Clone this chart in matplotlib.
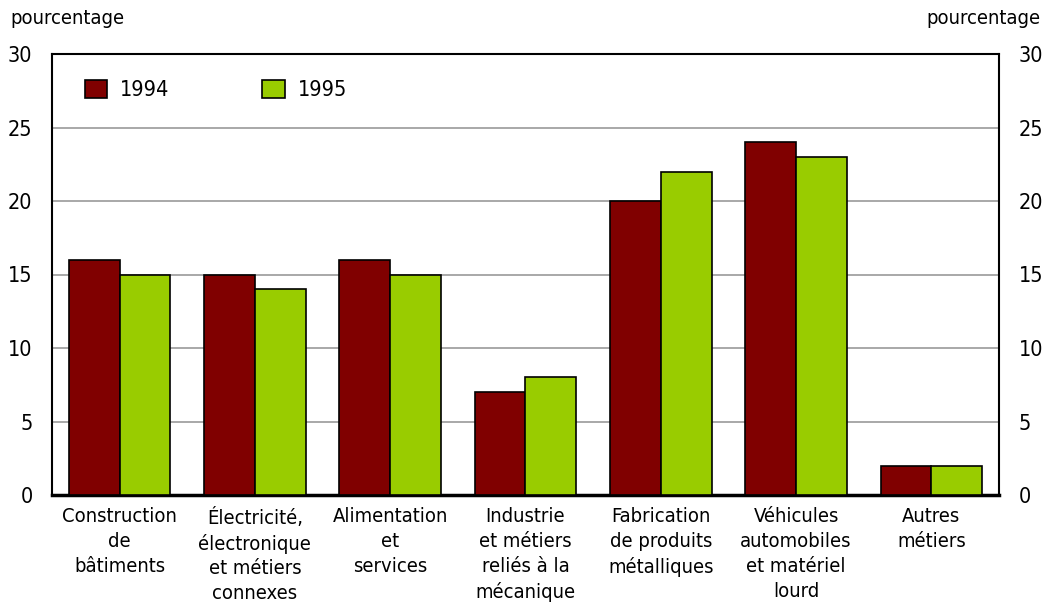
import matplotlib.pyplot as plt
import numpy as np

plt.rcParams['font.family'] = ['DejaVu Sans']
plt.rcParams['font.stretch'] = 'condensed'

categories = ["Construction\nde\nbâtiments",
              "Électricité,\nélectronique\net métiers\nconnexes",
              "Alimentation\net\nservices",
              "Industrie\net métiers\nreliés à la\nmécanique",
              "Fabrication\nde produits\nmétalliques",
              "Véhicules\nautomobiles\net matériel\nlourd",
              "Autres\nmétiers"]
v1994 = [16, 15, 16, 7, 20, 24, 2]
v1995 = [15, 14, 15, 8, 22, 23, 2]
yticks = [0, 5, 10, 15, 20, 25, 30]

fig = plt.figure(figsize=(10.54, 6.08), dpi=100)
ax = fig.add_axes([52/1054, 1-495/608, 947/1054, 441/608])

x = np.arange(len(categories))
w = 0.375
ax.bar(x - w/2, v1994, w, color="#800000", edgecolor="black", linewidth=1.2, label="1994", zorder=3)
ax.bar(x + w/2, v1995, w, color="#99cc00", edgecolor="black", linewidth=1.2, label="1995", zorder=3)

ax.set_xlim(-0.5, len(categories) - 0.5)
ax.set_ylim(0, 30)
ax.set_yticks(yticks)
ax.set_yticklabels([str(t) for t in yticks], fontsize=15.5)
ax.yaxis.grid(True, color="#999999", linewidth=1.2, zorder=0)
ax.tick_params(axis='y', length=0, pad=14, labelright=True, labelleft=True)
ax.set_xticks(x)
ax.set_xticklabels(categories, fontsize=14.5, linespacing=1.38, va="top")
ax.tick_params(axis='x', length=0, pad=9)
for s in ax.spines.values():
    s.set_linewidth(1.5)
ax.spines['bottom'].set_linewidth(2.5)

fig.text(10/1054, 1-18/608, "pourcentage", fontsize=14.5, va="center", ha="left")
fig.text(1040/1054, 1-18/608, "pourcentage", fontsize=14.5, va="center", ha="right")

ax.legend(loc="upper left", bbox_to_anchor=(0.014, 0.985), ncol=2, frameon=False,
          fontsize=15.5, handlelength=1.05, handleheight=0.9, columnspacing=4.3,
          handletextpad=0.6)

fig.savefig("out.png", dpi=100)
